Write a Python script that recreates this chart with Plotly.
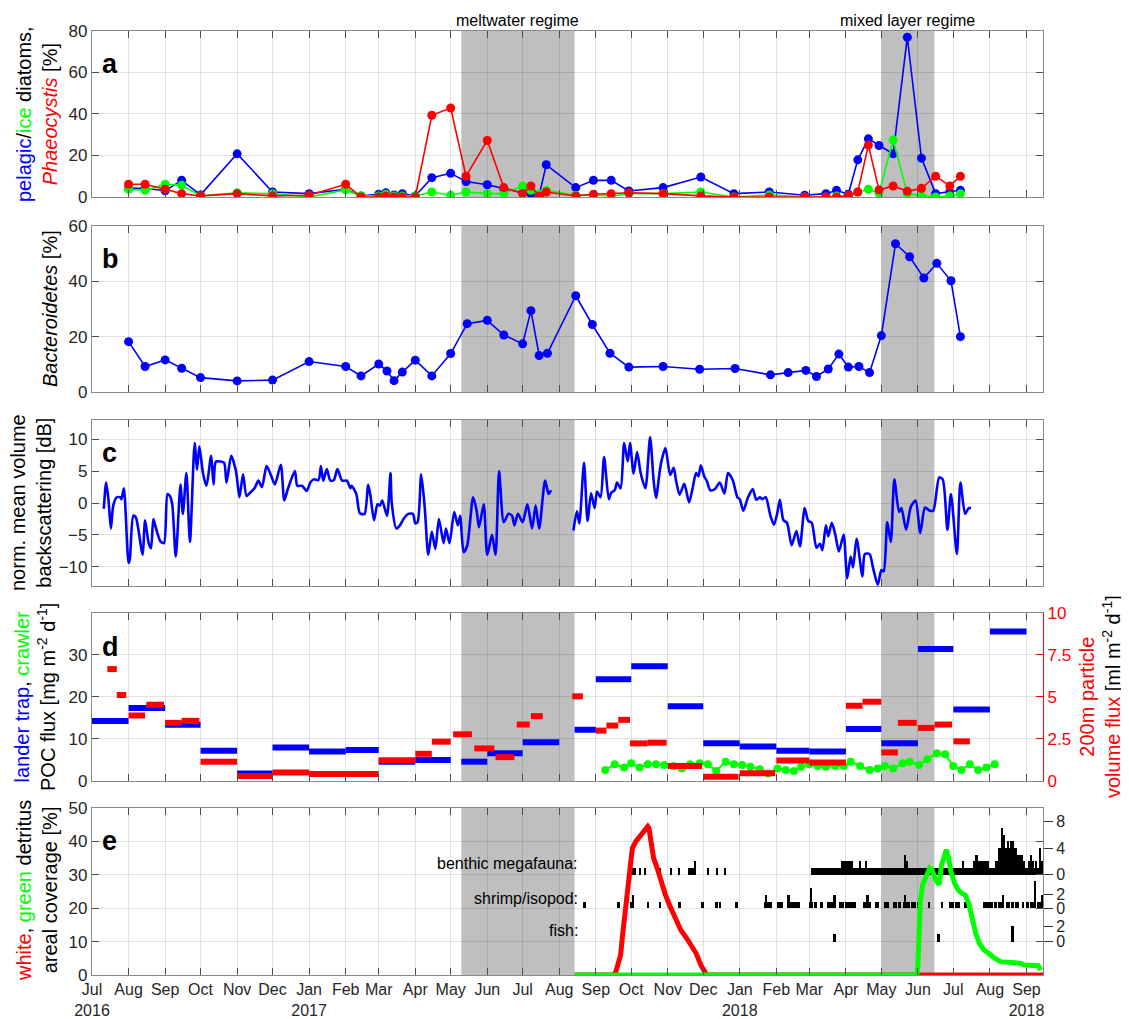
import pandas as pd
import plotly.graph_objects as go

# ---------------- DATA ----------------
regime_names = ["meltwater regime", "mixed layer regime"]
regime_start = ["2017-05-10", "2018-05-01"]
regime_end = ["2017-08-14", "2018-06-15"]
regime_mid = ["2017-06-27", "2018-05-23"]

# panel a: diatoms / Phaeocystis [%]
a_dates = ["2016-08-01", "2016-08-15", "2016-09-01", "2016-09-15", "2016-10-01", "2016-11-01",
           "2016-12-01", "2017-01-01", "2017-02-01", "2017-02-14", "2017-03-01", "2017-03-07",
           "2017-03-14", "2017-03-21", "2017-04-01", "2017-04-15", "2017-05-01", "2017-05-14",
           "2017-06-01", "2017-06-15", "2017-07-01", "2017-07-08", "2017-07-15", "2017-07-21",
           "2017-08-15", "2017-08-30", "2017-09-14", "2017-09-29", "2017-10-28", "2017-11-29",
           "2017-12-27", "2018-01-26", "2018-02-25", "2018-03-15", "2018-03-24", "2018-04-03",
           "2018-04-11", "2018-04-20", "2018-04-29", "2018-05-11", "2018-05-23", "2018-06-04",
           "2018-06-16", "2018-06-28", "2018-07-07"]
a_pelagic = [4.2, 4.2, 3.0, 8.0, 1.0, 20.8, 2.4, 1.6, 3.7, 0.5, 1.3, 2.0, 1.0, 1.6, 0.5, 9.3,
             11.4, 7.4, 5.9, 4.0, 2.0, 1.6, 0.8, 15.5, 4.5, 8.0, 8.0, 2.9, 4.5, 9.6, 1.6, 2.4,
             0.8, 1.6, 3.2, 1.3, 17.9, 28.0, 24.8, 20.8, 77.0, 18.7, 1.6, 2.4, 3.2]
a_ice = [3.7, 3.2, 6.1, 5.6, 0.5, 2.0, 1.6, 0.0, 3.4, 0.5, 0.5, 1.3, 0.5, 0.5, 0.5, 2.4, 0.8,
         2.4, 1.6, 1.6, 5.3, 3.2, 1.3, 3.2, 0.8, 1.0, 0.5, 1.6, 1.6, 2.4, 0.0, 1.0, 0.0, 0.0,
         0.5, 0.0, 2.4, 3.7, 1.8, 27.4, 1.6, 0.5, 0.0, 0.5, 1.6]
a_phaeo = [6.1, 6.1, 3.7, 1.6, 0.5, 1.6, 0.5, 0.8, 6.1, 0.0, 0.0, 0.5, 0.0, 0.0, 0.0, 39.4,
           42.9, 10.0, 27.2, 4.5, 1.6, 5.3, 0.5, 2.4, 0.5, 1.3, 1.6, 2.0, 1.6, 0.5, 0.0, 0.0,
           0.0, 0.0, 0.0, 0.8, 2.4, 25.0, 3.4, 5.3, 2.7, 4.2, 10.0, 5.3, 10.0]

# panel b: Bacteroidetes [%]
b_dates = ["2016-08-01", "2016-08-15", "2016-09-01", "2016-09-15", "2016-10-01", "2016-11-01",
           "2016-12-01", "2017-01-01", "2017-02-01", "2017-02-14", "2017-03-01", "2017-03-08",
           "2017-03-14", "2017-03-21", "2017-04-01", "2017-04-15", "2017-05-01", "2017-05-15",
           "2017-06-01", "2017-06-15", "2017-07-01", "2017-07-08", "2017-07-15", "2017-07-22",
           "2017-08-15", "2017-08-29", "2017-09-13", "2017-09-29", "2017-10-28", "2017-11-28",
           "2017-12-28", "2018-01-27", "2018-02-11", "2018-02-26", "2018-03-07", "2018-03-17",
           "2018-03-26", "2018-04-03", "2018-04-12", "2018-04-21", "2018-05-01", "2018-05-13",
           "2018-05-25", "2018-06-06", "2018-06-17", "2018-06-29", "2018-07-07"]
b_bacteroidetes = [18.2, 9.2, 11.6, 8.6, 5.2, 4.0, 4.3, 11.0, 9.2, 5.8, 10.1, 7.6, 4.1, 7.2,
                   11.5, 5.8, 13.9, 24.7, 25.9, 20.6, 17.4, 29.4, 13.2, 14.0, 34.8, 24.4, 14.0,
                   9.0, 9.2, 8.2, 8.5, 6.2, 7.0, 7.8, 5.6, 8.3, 13.7, 9.0, 9.2, 7.0, 20.4, 53.6,
                   48.9, 41.2, 46.5, 40.2, 20.0]

# panel c: normalized mean volume backscattering [dB]; day number since 2016-07-01 (None = data gap)
c_day = [10, 12, 14, 16, 18, 21, 24, 25, 27, 31, 32, 35, 37, 39, 42, 43, 45, 48, 50, 52, 54, 58,
         61, 64, 66, 68, 71, 75, 77, 80, 83, 87, 89, 91, 94, 97, 101, 103, 105, 109, 112, 114,
         118, 122, 125, 128, 131, 134, 138, 141, 144, 148, 152, 155, 160, 163, 166, 172, 174,
         178, 182, 185, 188, 192, 194, 196, 199, 202, 205, 208, 212, 216, 219, 220, 224, 227,
         231, 234, 236, 239, 242, 244, 246, 250, 253, 254, 258, 261, 264, 268, 272, 274, 276,
         279, 282, 285, 288, 291, 294, 298, 300, 303, 307, 310, 312, 315, 318, 323, 326, 328,
         332, 335, 339, 342, 345, 349, 353, 356, 358, 361, 365, 369, 373, 376, 379, 384, 387,
         389, None,
         408, 411, 413, 417, 420, 423, 426, 428, 431, 434, 438, 440, 443, 445, 448, 451, 454,
         456, 459, 462, 465, 469, 473, 476, 478, 482, 486, 490, 493, 495, 498, 502, 506, 509,
         512, 514, 516, 519, 521, 524, 528, 532, 536, 539, 543, 547, 549, 552, 556, 560, 563,
         566, 568, 571, 575, 578, 581, 583, 586, 589, 593, 597, 600, 604, 607, 610, 614, 617,
         619, 622, 624, 627, 630, 633, 637, 640, 643, 645, 648, 653, 655, 659, 662, 666, 669,
         671, 674, 677, 680, 684, 686, 690, 694, 698, 702, 706, 710, 713, 718, 721, 725, 728,
         733, 736, 740, 743, 745]
c_backscatter = [-0.9, 3.2, 0.4, -4.0, -0.4, 0.9, 0.9, 0.6, 2.3, -9.4, -8.9, -2.0, -2.2, -3.8,
                 -7.4, -8.1, -2.7, -6.3, -7.1, -2.5, -3.8, -6.0, -6.3, 1.4, 1.1, -0.2, -8.4, 2.9,
                 -1.7, 4.7, -6.1, 9.4, 5.2, 8.9, 4.7, 2.7, 7.4, 2.9, 6.5, 6.5, 6.3, 3.2, 7.4, 5.0,
                 0.9, 4.5, 1.1, 1.6, 2.4, 3.5, 2.5, 5.8, 4.2, 2.9, 6.0, 0.4, 2.2, 5.0, 2.7, 2.7,
                 1.9, 3.2, 3.7, 3.6, 5.8, 3.5, 5.3, 3.5, 3.6, 5.3, 3.5, 3.5, 2.3, 2.7, 1.4, -1.6,
                 -1.7, 2.9, 1.1, -2.7, -0.2, -0.4, 0.4, -2.0, 4.7, 0.1, -4.0, -3.5, -2.5, -1.7,
                 -1.7, -3.2, -3.0, 4.5, -0.7, -8.1, -4.5, -7.2, -2.5, -6.3, -4.0, -6.3, -1.4,
                 -3.5, -2.0, -7.7, -6.7, 0.9, -1.2, -3.8, -0.2, -8.1, -5.0, -8.1, 5.0, -3.0,
                 -1.7, -2.0, -3.5, -1.7, -3.0, -0.2, -4.0, -0.4, -4.0, 3.5, 1.4, 2.0, None,
                 -4.3, -1.3, -3.2, 6.3, -2.8, 1.5, -0.8, 1.8, 0.9, 7.2, 0.6, 1.6, 2.0, 3.2, 2.3,
                 9.4, 6.5, 9.4, 4.6, 8.0, 4.7, 2.3, 10.3, 3.5, 0.8, 6.0, 8.6, 4.4, 5.5, 3.5, 1.3,
                 3.0, 0.1, 2.3, 4.7, 4.2, 5.9, 4.1, 3.5, 2.0, 2.2, 3.2, 1.5, 4.7, 3.6, 0.9, 0.6,
                 -1.2, 0.9, 2.2, 0.5, 0.9, 0.6, 0.9, -2.0, -3.4, -1.4, 0.5, -2.7, -3.1, -6.6,
                 -4.4, -6.8, -0.8, -2.8, -3.1, -7.0, -6.4, -7.4, -3.5, -5.2, -3.1, -5.0, -7.6,
                 -5.0, -11.8, -8.4, -10.1, -5.6, -11.5, -8.0, -8.0, -10.2, -12.8, -10.5, -10.7,
                 -3.0, -6.1, 3.7, -1.4, -0.8, -4.2, -0.6, 0.4, -4.7, -0.7, -1.2, -1.2, 4.0, 3.7,
                 -4.2, 1.4, -8.0, 3.2, -1.7, -0.8, -0.8]

# panel d: lander trap POC flux [mg m-2 d-1] (left axis), per deployment interval
poc_start = ["2016-07-01", "2016-08-01", "2016-09-01", "2016-10-01", "2016-11-01", "2016-12-01",
             "2017-01-01", "2017-02-01", "2017-03-01", "2017-04-01", "2017-05-10", "2017-06-01",
             "2017-07-01", "2017-08-14", "2017-09-01", "2017-10-01", "2017-11-01", "2017-12-01",
             "2018-01-01", "2018-02-01", "2018-03-01", "2018-04-01", "2018-05-01", "2018-06-01",
             "2018-07-01", "2018-08-01"]
poc_end = ["2016-08-01", "2016-09-01", "2016-10-01", "2016-11-01", "2016-12-01", "2017-01-01",
           "2017-02-01", "2017-03-01", "2017-04-01", "2017-05-01", "2017-06-01", "2017-07-01",
           "2017-08-01", "2017-09-01", "2017-10-01", "2017-11-01", "2017-12-01", "2018-01-01",
           "2018-02-01", "2018-03-01", "2018-04-01", "2018-05-01", "2018-06-01", "2018-07-01",
           "2018-08-01", "2018-09-01"]
poc_flux = [14.3, 17.4, 13.4, 7.2, 1.8, 8.0, 7.0, 7.4, 4.6, 5.0, 4.6, 6.6, 9.2, 12.2, 24.2, 27.3,
            17.8, 9.0, 8.2, 7.2, 7.0, 12.4, 9.0, 31.4, 17.0, 35.6]

# panel d: 200 m particle volume flux [ml m-2 d-1] (right axis)
pvf_start = ["2016-07-14", "2016-07-22", "2016-08-01", "2016-08-16", "2016-09-01", "2016-09-15",
             "2016-10-01", "2016-11-01", "2016-12-01", "2017-01-01", "2017-03-01", "2017-04-01",
             "2017-04-15", "2017-05-03", "2017-05-21", "2017-06-08", "2017-06-26", "2017-07-08",
             "2017-08-12", "2017-09-01", "2017-09-10", "2017-09-20", "2017-09-30", "2017-10-15",
             "2017-11-01", "2017-12-01", "2018-01-01", "2018-02-01", "2018-03-01", "2018-04-01",
             "2018-04-15", "2018-05-01", "2018-05-15", "2018-06-01", "2018-06-15", "2018-07-01"]
pvf_end = ["2016-07-22", "2016-07-30", "2016-08-15", "2016-08-31", "2016-09-15", "2016-09-30",
           "2016-11-01", "2016-12-01", "2017-01-01", "2017-03-01", "2017-04-01", "2017-04-15",
           "2017-05-01", "2017-05-19", "2017-06-07", "2017-06-24", "2017-07-07", "2017-07-18",
           "2017-08-21", "2017-09-10", "2017-09-20", "2017-09-30", "2017-10-15", "2017-10-31",
           "2017-11-30", "2017-12-31", "2018-01-31", "2018-03-01", "2018-04-01", "2018-04-15",
           "2018-05-01", "2018-05-15", "2018-05-31", "2018-06-15", "2018-06-30", "2018-07-15"]
pvf_flux = [6.66, 5.12, 3.9, 4.54, 3.46, 3.58, 1.14, 0.3, 0.5, 0.42, 1.24, 1.62, 2.34, 2.78,
            1.94, 1.42, 3.36, 3.86, 5.04, 3.0, 3.3, 3.64, 2.24, 2.28, 0.9, 0.26, 0.46, 1.22, 1.1,
            4.48, 4.72, 1.7, 3.46, 3.16, 3.36, 2.36]

# panel d: crawler POC flux [mg m-2 d-1]
crawler_dates = ["2017-09-09", "2017-09-17", "2017-09-25", "2017-10-01", "2017-10-08", "2017-10-15",
                 "2017-10-22", "2017-10-29", "2017-11-06", "2017-11-13", "2017-11-20", "2017-11-28",
                 "2017-12-05", "2017-12-12", "2017-12-20", "2017-12-27", "2018-01-03", "2018-01-10",
                 "2018-01-18", "2018-01-25", "2018-02-02", "2018-02-09", "2018-02-16", "2018-02-22",
                 "2018-03-01", "2018-03-08", "2018-03-15", "2018-03-23", "2018-03-30", "2018-04-05",
                 "2018-04-13", "2018-04-21", "2018-04-28", "2018-05-04", "2018-05-11", "2018-05-19",
                 "2018-05-25", "2018-06-02", "2018-06-09", "2018-06-17", "2018-06-24", "2018-07-01",
                 "2018-07-08", "2018-07-15", "2018-07-22", "2018-07-29", "2018-08-05"]
crawler_flux = [2.6, 4.0, 3.2, 4.2, 3.2, 4.0, 4.0, 3.8, 3.6, 3.0, 4.0, 4.2, 4.0, 2.4, 4.6, 4.0,
                3.8, 3.4, 2.8, 1.8, 3.0, 2.6, 2.4, 3.4, 4.0, 3.6, 3.4, 3.6, 3.6, 4.6, 3.6, 2.6,
                3.0, 3.6, 3.0, 4.2, 4.6, 3.8, 5.2, 6.6, 6.4, 3.6, 2.6, 4.0, 2.6, 3.2, 4.0]

# panel e: detritus areal coverage [%]
white_dates = ["2017-08-14", "2017-09-16", "2017-09-18", "2017-09-20", "2017-09-22", "2017-09-24",
               "2017-09-26", "2017-09-28", "2017-09-30", "2017-10-02", "2017-10-05", "2017-10-09",
               "2017-10-12", "2017-10-15", "2017-10-16", "2017-10-18", "2017-10-20", "2017-10-23",
               "2017-10-26", "2017-10-30", "2017-11-03", "2017-11-08", "2017-11-12", "2017-11-17",
               "2017-11-21", "2017-11-25", "2017-11-29", "2017-12-02", "2017-12-04", "2018-09-15"]
white_cover = [0, 0, 1, 3, 6, 13, 19, 27, 33, 38, 40, 42, 43.5, 44.5, 44, 39, 35, 32, 28.5, 24,
               20.5, 16.5, 13.5, 11, 9, 6.5, 3, 1, 0, 0]
green_dates = ["2017-08-14", "2018-05-31", "2018-06-01", "2018-06-02", "2018-06-03", "2018-06-05",
               "2018-06-08", "2018-06-11", "2018-06-13", "2018-06-16", "2018-06-19", "2018-06-21",
               "2018-06-23", "2018-06-25", "2018-06-27", "2018-06-29", "2018-07-02", "2018-07-05",
               "2018-07-08", "2018-07-11", "2018-07-14", "2018-07-17", "2018-07-20", "2018-07-23",
               "2018-07-27", "2018-07-31", "2018-08-05", "2018-08-10", "2018-08-20", "2018-08-27",
               "2018-08-30", "2018-09-11", "2018-09-13"]
green_cover = [0, 0, 3, 15, 22, 27, 29.5, 32, 31.5, 28.5, 27, 33, 35, 37.5, 35, 31, 27.5, 25.5,
               24.5, 24, 21.5, 16.5, 12.5, 9.5, 7.5, 6.5, 5, 4, 3.8, 3.5, 3, 2.8, 1.5]

# panel e: daily counts (runs: start, end-exclusive, count)
megafauna_runs = [
    ("2017-09-28", "2017-10-05", 1), ("2017-09-30", "2017-10-01", 2), ("2017-10-08", "2017-10-09", 1),
    ("2017-10-12", "2017-10-13", 1), ("2017-10-25", "2017-10-26", 1), ("2017-11-03", "2017-11-04", 1),
    ("2017-11-10", "2017-11-11", 1), ("2017-11-18", "2017-11-25", 1), ("2017-11-23", "2017-11-25", 2),
    ("2017-12-05", "2017-12-06", 1), ("2017-12-12", "2017-12-13", 1), ("2017-12-19", "2017-12-20", 1),
    ("2018-03-02", "2018-09-15", 1), ("2018-03-28", "2018-04-07", 2), ("2018-04-12", "2018-04-14", 2),
    ("2018-04-17", "2018-04-19", 2), ("2018-05-20", "2018-05-24", 2), ("2018-05-21", "2018-05-22", 3),
    ("2018-06-28", "2018-06-29", 2), ("2018-07-09", "2018-07-10", 2), ("2018-07-18", "2018-07-24", 2),
    ("2018-07-19", "2018-07-22", 3), ("2018-07-24", "2018-07-31", 2), ("2018-08-05", "2018-08-08", 2),
    ("2018-08-08", "2018-08-12", 4), ("2018-08-10", "2018-08-12", 5), ("2018-08-11", "2018-08-12", 7),
    ("2018-08-12", "2018-08-14", 6), ("2018-08-14", "2018-08-18", 4), ("2018-08-16", "2018-08-17", 5),
    ("2018-08-18", "2018-08-21", 5), ("2018-08-21", "2018-08-24", 4), ("2018-08-24", "2018-08-27", 3),
    ("2018-08-27", "2018-08-31", 2), ("2018-08-28", "2018-08-29", 3), ("2018-09-02", "2018-09-07", 2),
    ("2018-09-04", "2018-09-05", 3), ("2018-09-09", "2018-09-10", 2), ("2018-09-12", "2018-09-13", 4),
    ("2018-09-13", "2018-09-15", 2),
]
shrimp_dates = ["2017-08-22", "2017-09-20", "2017-10-01", "2017-10-02", "2017-10-15", "2017-10-25",
                "2017-11-10", "2017-11-11", "2017-11-30", "2017-12-12", "2017-12-15", "2017-12-29",
                "2018-01-22", "2018-01-23", "2018-01-25", "2018-01-27", "2018-02-02", "2018-02-04",
                "2018-02-05", "2018-02-11", "2018-02-13", "2018-02-15", "2018-02-17", "2018-02-18",
                "2018-02-20", "2018-03-01", "2018-03-02", "2018-03-03", "2018-03-06", "2018-03-11",
                "2018-03-17", "2018-03-19", "2018-03-20", "2018-03-22", "2018-03-27", "2018-03-29",
                "2018-04-01", "2018-04-03", "2018-04-05", "2018-04-07", "2018-04-08", "2018-04-16",
                "2018-04-17", "2018-04-19", "2018-04-20", "2018-04-21", "2018-04-26", "2018-04-28",
                "2018-05-04", "2018-05-06", "2018-05-12", "2018-05-13", "2018-05-16", "2018-05-20",
                "2018-05-21", "2018-05-22", "2018-05-24", "2018-05-27", "2018-05-29", "2018-06-01",
                "2018-06-03", "2018-06-10", "2018-06-21", "2018-06-28", "2018-06-30", "2018-07-03",
                "2018-07-05", "2018-07-11", "2018-07-12", "2018-07-27", "2018-07-29", "2018-07-31",
                "2018-08-02", "2018-08-05", "2018-08-06", "2018-08-09", "2018-08-11", "2018-08-12",
                "2018-08-15", "2018-08-17", "2018-08-20", "2018-08-23", "2018-08-24", "2018-08-29",
                "2018-09-01", "2018-09-02", "2018-09-05", "2018-09-06", "2018-09-08", "2018-09-11",
                "2018-09-13", "2018-09-14"]
shrimp_counts = [1, 1, 1, 2, 1, 1, 1, 1, 1, 1, 1, 1,
                 1, 2, 1, 1, 1, 1, 1, 2, 1, 1, 1, 1,
                 1, 1, 3, 1, 1, 1, 1, 1, 1, 2, 1, 1,
                 1, 1, 1, 1, 1, 1, 1, 2, 1, 1, 1, 1,
                 1, 1, 1, 1, 1, 1, 2, 1, 1, 1, 1, 1,
                 1, 1, 1, 1, 1, 1, 1, 1, 1, 1, 1, 1,
                 1, 1, 1, 1, 1, 2, 1, 1, 1, 1, 1, 1,
                 1, 1, 1, 1, 4, 1, 1, 2]
fish_dates = ["2018-03-22", "2018-06-18", "2018-08-20"]
fish_counts = [1, 1, 2]

# x-axis ticks
month_ticks = ["2016-07-01", "2016-08-01", "2016-09-01", "2016-10-01", "2016-11-01", "2016-12-01",
               "2017-01-01", "2017-02-01", "2017-03-01", "2017-04-01", "2017-05-01", "2017-06-01",
               "2017-07-01", "2017-08-01", "2017-09-01", "2017-10-01", "2017-11-01", "2017-12-01",
               "2018-01-01", "2018-02-01", "2018-03-01", "2018-04-01", "2018-05-01", "2018-06-01",
               "2018-07-01", "2018-08-01", "2018-09-01"]
month_labels = ["Jul<br>2016", "Aug", "Sep", "Oct", "Nov", "Dec", "Jan<br>2017", "Feb", "Mar", "Apr",
                "May", "Jun", "Jul", "Aug", "Sep", "Oct", "Nov", "Dec", "Jan<br>2018", "Feb", "Mar",
                "Apr", "May", "Jun", "Jul", "Aug", "Sep<br>2018"]

# ---------------- STYLE ----------------
FONT = "Liberation Sans, Arial, Helvetica, sans-serif"
BLUE, GREEN, RED = "#0000ff", "#00ff00", "#ff0000"
GRID = "rgba(30,30,30,0.13)"
LINE = "#8a8a8a"
TICKC = "#4d4d4d"
TXT = "#262626"
SHADE = "#bfbfbf"
# page is rendered with an 8px body margin: shrink figure and margins accordingly
PAGE_OFF = 8
W, H = 1129 - PAGE_OFF, 1019 - PAGE_OFF
BOX_L, BOX_R, BOX_T, BOX_B = 92, 1043, 31, 975          # plot box in page pixels
ML, MT = BOX_L - PAGE_OFF, BOX_T - PAGE_OFF
MR, MB = (W + PAGE_OFF) - BOX_R, (H + PAGE_OFF) - BOX_B
domains = {1: [0.8242, 1.0], 2: [0.6176, 0.7934], 3: [0.4121, 0.5879],
           4: [0.2055, 0.3835], 5: [0.0, 0.1769]}

fig = go.Figure()

# panel a
for vals, col in [(a_pelagic, BLUE), (a_ice, GREEN), (a_phaeo, RED)]:
    fig.add_trace(go.Scatter(x=a_dates, y=vals, mode="lines+markers", xaxis="x", yaxis="y",
                             line=dict(color=col, width=1.6), marker=dict(color=col, size=9),
                             showlegend=False))
# panel b
fig.add_trace(go.Scatter(x=b_dates, y=b_bacteroidetes, mode="lines+markers", xaxis="x2", yaxis="y2",
                         line=dict(color=BLUE, width=1.6), marker=dict(color=BLUE, size=9),
                         showlegend=False))
# panel c
start0 = pd.Timestamp("2016-07-01")
c_dates = [None if d is None else start0 + pd.Timedelta(days=d) for d in c_day]
fig.add_trace(go.Scatter(x=c_dates, y=c_backscatter, mode="lines", xaxis="x3", yaxis="y3",
                         line=dict(color=BLUE, width=2.6, shape="spline", smoothing=0.7),
                         connectgaps=False, showlegend=False))


# panel d: interval bars
def segments(starts, ends, vals):
    xs, ys = [], []
    for s, e, v in zip(starts, ends, vals):
        xs += [s, e, None]
        ys += [v, v, None]
    return xs, ys


px_, py_ = segments(poc_start, poc_end, poc_flux)
fig.add_trace(go.Scatter(x=px_, y=py_, mode="lines", xaxis="x4", yaxis="y4",
                         line=dict(color=BLUE, width=6), showlegend=False))
rx_, ry_ = segments(pvf_start, pvf_end, pvf_flux)
fig.add_trace(go.Scatter(x=rx_, y=ry_, mode="lines", xaxis="x4", yaxis="y6",
                         line=dict(color=RED, width=6), showlegend=False))
fig.add_trace(go.Scatter(x=crawler_dates, y=crawler_flux, mode="lines+markers", xaxis="x4", yaxis="y4",
                         line=dict(color=GREEN, width=2), marker=dict(color=GREEN, size=8),
                         showlegend=False))

# panel e: count bars
MEGA_BASE, SHRIMP_BASE, FISH_BASE = 30, 20, 10
MEGA_K, SHRIMP_K, FISH_K = 2.0, 2.0, 2.3
mx, mw, mh = [], [], []
for s, e, c in megafauna_runs:
    s, e = pd.Timestamp(s), pd.Timestamp(e)
    mx.append(s + (e - s) / 2)
    mw.append((e - s).total_seconds() * 1000)
    mh.append(c * MEGA_K)
fig.add_trace(go.Bar(x=mx, y=mh, base=MEGA_BASE, width=mw, xaxis="x5", yaxis="y5",
                     marker=dict(color="black", line=dict(width=0)), showlegend=False))
DAY_MS = 86400000
for dates, counts, base, k in [(shrimp_dates, shrimp_counts, SHRIMP_BASE, SHRIMP_K),
                               (fish_dates, fish_counts, FISH_BASE, FISH_K)]:
    xs = [pd.Timestamp(d) + pd.Timedelta(hours=12) for d in dates]
    fig.add_trace(go.Bar(x=xs, y=[c * k for c in counts], base=base, width=[1.6 * DAY_MS] * len(xs),
                         xaxis="x5", yaxis="y5", marker=dict(color="black", line=dict(width=0)),
                         showlegend=False))
fig.add_trace(go.Scatter(x=white_dates, y=white_cover, mode="lines", xaxis="x5", yaxis="y5",
                         line=dict(color=RED, width=5), showlegend=False))
fig.add_trace(go.Scatter(x=green_dates, y=green_cover, mode="lines", xaxis="x5", yaxis="y5",
                         line=dict(color=GREEN, width=5), showlegend=False))

# ---------------- LAYOUT ----------------
xcommon = dict(type="date", range=["2016-07-01", "2018-09-15"], tickvals=month_ticks,
               ticktext=month_labels, ticks="inside", ticklen=7, tickcolor=TICKC,
               showgrid=True, gridcolor=GRID, gridwidth=1, showline=True, linecolor=LINE,
               linewidth=1.2, mirror="ticks", zeroline=False, automargin=False,
               tickfont=dict(family=FONT, size=16, color=TXT))
ycommon = dict(ticks="inside", ticklen=7, tickcolor=TICKC, showgrid=True, gridcolor=GRID,
               showline=True, linecolor=LINE, linewidth=1.2, mirror="ticks", zeroline=False,
               automargin=False, tickfont=dict(family=FONT, size=17, color=TXT))

layout = dict(width=W, height=H, margin=dict(l=ML, r=MR, t=MT, b=MB, autoexpand=False),
              paper_bgcolor="white", plot_bgcolor="white", barmode="overlay", bargap=0,
              font=dict(family=FONT, color=TXT), showlegend=False)
for i in range(1, 6):
    key = "xaxis" if i == 1 else f"xaxis{i}"
    xa = dict(xcommon)
    xa["anchor"] = "y" if i == 1 else f"y{i}"
    xa["showticklabels"] = (i == 5)
    if i > 1:
        xa["matches"] = "x"
    layout[key] = xa

layout["yaxis"] = dict(ycommon, domain=domains[1], anchor="x", range=[0, 80], tickvals=[0, 20, 40, 60, 80])
layout["yaxis2"] = dict(ycommon, domain=domains[2], anchor="x2", range=[0, 60], tickvals=[0, 20, 40, 60])
layout["yaxis3"] = dict(ycommon, domain=domains[3], anchor="x3", range=[-13, 13], tickvals=[-10, -5, 0, 5, 10])
layout["yaxis4"] = dict(ycommon, domain=domains[4], anchor="x4", range=[0, 40], tickvals=[0, 10, 20, 30],
                        mirror=False)
layout["yaxis5"] = dict(ycommon, domain=domains[5], anchor="x5", range=[0, 50],
                        tickvals=[0, 10, 20, 30, 40, 50])
layout["yaxis6"] = dict(overlaying="y4", side="right", anchor="x4", range=[0, 10],
                        tickvals=[0, 2.5, 5, 7.5, 10], ticktext=["0", "2.5", "5", "7.5", "10"],
                        ticks="inside", ticklen=7, tickcolor=RED, showline=True, linecolor=RED,
                        linewidth=1.2, showgrid=False, zeroline=False, automargin=False,
                        tickfont=dict(family=FONT, size=17, color=RED))
count_tickvals = [MEGA_BASE, MEGA_BASE + 4 * MEGA_K, MEGA_BASE + 8 * MEGA_K,
                  SHRIMP_BASE, SHRIMP_BASE + 2 * SHRIMP_K, FISH_BASE, FISH_BASE + 2 * FISH_K]
layout["yaxis7"] = dict(overlaying="y5", side="right", anchor="x5", range=[0, 50],
                        tickvals=count_tickvals, ticktext=["0", "4", "8", "0", "2", "0", "2"],
                        ticks="outside", ticklen=9, tickcolor="#333", showline=False,
                        showgrid=False, zeroline=False, automargin=False,
                        tickfont=dict(family=FONT, size=16, color=TXT))
fig.update_layout(**layout)
# invisible trace to activate y7
fig.add_trace(go.Scatter(x=[month_ticks[0]], y=[0], xaxis="x5", yaxis="y7", mode="markers",
                         marker=dict(opacity=0), showlegend=False, hoverinfo="skip"))

# shaded regimes
shapes = []
for i in range(1, 6):
    xr = "x" if i == 1 else f"x{i}"
    yr = "y domain" if i == 1 else f"y{i} domain"
    for s, e in zip(regime_start, regime_end):
        shapes.append(dict(type="rect", xref=xr, yref=yr, x0=s, x1=e, y0=0, y1=1,
                           fillcolor=SHADE, line=dict(width=0), layer="below"))
fig.update_layout(shapes=shapes)


def paper_x(px):
    return (px - BOX_L) / (BOX_R - BOX_L)


def paper_y(py):
    return (BOX_B - py) / (BOX_B - BOX_T)


ann = []
# regime labels
for name, mid in zip(regime_names, regime_mid):
    ann.append(dict(text=name, x=mid, xref="x", y=paper_y(20), yref="paper", showarrow=False,
                    xanchor="center", yanchor="middle", font=dict(family=FONT, size=16, color="black")))
# panel letters
for i, letter in enumerate("abcde", start=1):
    xr = "x domain" if i == 1 else f"x{i} domain"
    yr = "y domain" if i == 1 else f"y{i} domain"
    ann.append(dict(text=f"<b>{letter}</b>", x=0.008, y=0.80, xref=xr, yref=yr, showarrow=False,
                    xanchor="left", yanchor="middle", font=dict(family=FONT, size=27, color="black")))

ylabels = [
    ("<span style='color:#0000ff'>pelagic</span>/<span style='color:#00ff00'>ice</span> diatoms,<br>"
     "<i><span style='color:#ff0000'>Phaeocystis</span></i> [%]", 37, 114),
    ("<i>Bacteroidetes</i> [%]", 50, 309),
    ("norm. mean volume<br>backscattering [dB]", 31, 503),
    ("<span style='color:#0000ff'>lander trap</span>, <span style='color:#00ff00'>crawler</span><br>"
     "POC flux [mg m<sup>-2</sup> d<sup>-1</sup>]", 35, 697),
    ("<span style='color:#ff0000'>white</span>, <span style='color:#00ff00'>green</span> detritus<br>"
     "areal coverage [%]", 37, 891),
]
for txt, px, py in ylabels:
    ann.append(dict(text=txt, x=paper_x(px), y=paper_y(py), xref="paper", yref="paper",
                    showarrow=False, textangle=-90, xanchor="center", yanchor="middle",
                    font=dict(family=FONT, size=20, color="black")))
ann.append(dict(text="<span style='color:#ff0000'>200m particle</span><br>"
                     "<span style='color:#ff0000'>volume flux</span> [ml m<sup>-2</sup> d<sup>-1</sup>]",
                x=paper_x(1100), y=paper_y(697), xref="paper", yref="paper", showarrow=False,
                textangle=-90, xanchor="center", yanchor="middle",
                font=dict(family=FONT, size=20, color="black")))
# count row labels
for txt, yv in [("benthic megafauna:", 33.5), ("shrimp/isopod:", 23.0), ("fish:", 13.2)]:
    ann.append(dict(text=txt, x="2017-08-19", xref="x5", y=yv, yref="y5", showarrow=False,
                    xanchor="right", yanchor="middle", font=dict(family=FONT, size=16, color="black")))
fig.update_layout(annotations=ann)

fig.write_html("out.html")
